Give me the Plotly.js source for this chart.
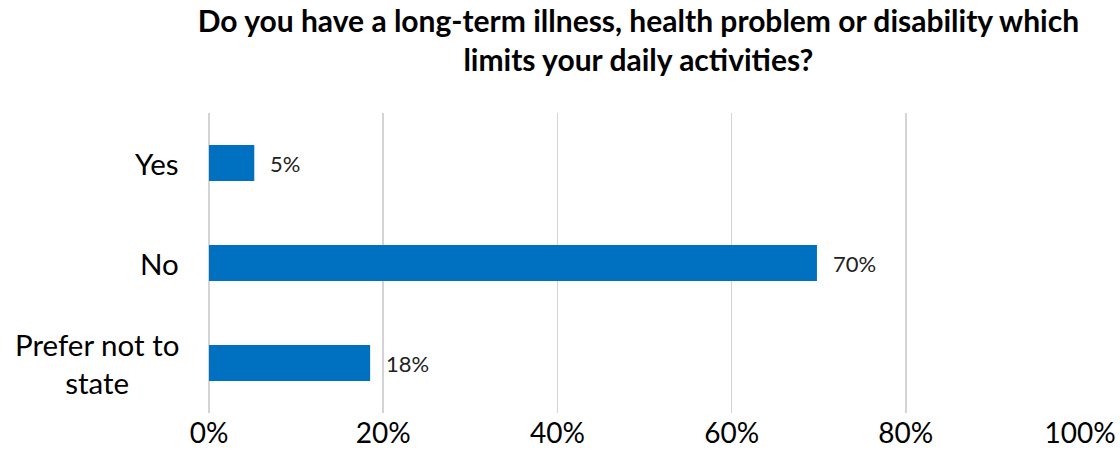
<!DOCTYPE html>
<html><head><meta charset="utf-8">
<script src="https://cdn.plot.ly/plotly-3.0.1.min.js"></script>
<style>html,body{margin:0;padding:0;background:#fff}#chart{width:1120px;height:468px}</style>
</head><body><div id="chart"></div>
<script>
const categories = ["Yes", "No", "Prefer not to state"];
const categoryLabels = ["Yes", "No", "Prefer not to<br>state"];
const values = [0.052, 0.698, 0.185];
const dataLabels = ["5%", "70%", "18%"];
const xTickVals = [0, 0.2, 0.4, 0.6, 0.8, 1.0];
const xTickText = ["0%", "20%", "40%", "60%", "80%", "100%"];
const titleText = "Do you have a long-term illness, health problem or disability which<br>limits your daily activities?";

const FONT = "Lato, 'Open Sans', sans-serif";

const annotations = [];
categories.forEach((c, i) => {
  annotations.push({
    x: 0, xref: 'paper', xanchor: 'right', xshift: -28,
    y: c, yref: 'y', yanchor: 'middle',
    text: categoryLabels[i], align: 'center', showarrow: false,
    font: {family: FONT, size: 29.5, color: '#000'}
  });
  annotations.push({
    x: values[i], xref: 'x', xanchor: 'left', xshift: 14,
    y: c, yref: 'y', yanchor: 'middle',
    text: dataLabels[i], showarrow: false,
    font: {family: FONT, size: 22, color: '#222'}
  });
});

const data = [{
  type: 'bar', orientation: 'h',
  x: values, y: categories,
  marker: {color: '#0070C0'},
  hoverinfo: 'none'
}];

const layout = {
  width: 1120, height: 468,
  margin: {l: 208.5, r: 40, t: 113, b: 55, pad: 0},
  paper_bgcolor: '#fff', plot_bgcolor: '#fff',
  bargap: 0.64,
  showlegend: false,
  title: {
    text: titleText, x: 0.57, xanchor: 'center', xref: 'container',
    y: 0.931, yanchor: 'middle', yref: 'container',
    font: {family: FONT, size: 30, color: '#000', weight: 'bold'}
  },
  xaxis: {
    range: [0, 1], tickvals: xTickVals, ticktext: xTickText,
    showgrid: true, gridcolor: '#d4d4d4', gridwidth: 1.5,
    zeroline: true, zerolinecolor: '#d4d4d4', zerolinewidth: 1.5,
    showline: false, ticks: '',
    tickfont: {family: FONT, size: 28, color: '#000'},
    ticklabelstandoff: 1, fixedrange: true
  },
  yaxis: {
    type: 'category', categoryorder: 'array', categoryarray: categories,
    autorange: 'reversed', showticklabels: false, showgrid: false,
    zeroline: false, showline: false, ticks: '', fixedrange: true
  },
  annotations: annotations
};

Plotly.newPlot('chart', data, layout, {displayModeBar: false, staticPlot: true});
</script></body></html>
